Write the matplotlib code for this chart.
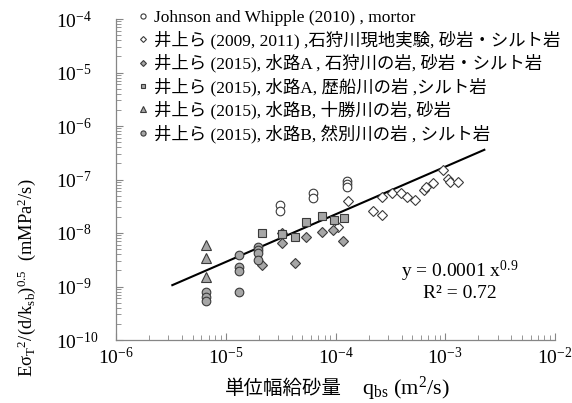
import numpy as np
import matplotlib
matplotlib.use('Agg')
import matplotlib.pyplot as plt
from matplotlib.ticker import FixedLocator, LogLocator, NullFormatter, LogFormatterMathtext

# フォント設定
plt.rcParams['font.family'] = ['Liberation Serif', 'Noto Sans CJK JP']
plt.rcParams['mathtext.fontset'] = 'custom'
plt.rcParams['mathtext.rm'] = 'Liberation Serif'
plt.rcParams['mathtext.it'] = 'Liberation Serif:italic'
plt.rcParams['mathtext.bf'] = 'Liberation Serif:bold'
plt.rcParams['axes.unicode_minus'] = False

# データ
jw_x = [3.12e-5, 3.12e-5, 6.24e-5, 6.24e-5, 1.26e-4, 1.26e-4, 1.26e-4]
jw_y = [3.27e-8, 2.58e-8, 5.6e-8, 4.57e-8, 9.38e-8, 8.24e-8, 7.33e-8]

field_x = [1.05e-4, 1.31e-4, 2.18e-4, 2.64e-4, 2.64e-4, 3.27e-4, 3.95e-4, 4.44e-4,
           5.30e-4, 6.47e-4, 6.68e-4, 7.78e-4, 9.59e-4, 1.07e-3, 1.10e-3, 1.32e-3]
field_y = [1.31e-8, 3.88e-8, 2.58e-8, 2.17e-8, 4.65e-8, 5.71e-8, 5.6e-8, 4.61e-8,
           4.14e-8, 6.5e-8, 7.24e-8, 8.49e-8, 1.51e-7, 1.01e-7, 8.97e-8, 9.1e-8]

chA_ishikari_x = [2.15e-5, 3.24e-5, 3.24e-5, 4.28e-5, 5.38e-5, 7.48e-5, 9.55e-5, 1.18e-4]
chA_ishikari_y = [2.52e-9, 1.02e-8, 6.6e-9, 2.72e-9, 8.3e-9, 1.06e-8, 1.14e-8, 7.1e-9]

chA_rekifune_x = [2.15e-5, 3.24e-5, 4.28e-5, 5.38e-5, 7.48e-5, 9.68e-5, 1.19e-4]
chA_rekifune_y = [9.9e-9, 9.4e-9, 8.4e-9, 1.63e-8, 2.12e-8, 1.73e-8, 1.88e-8]

chB_tokachi_x = [6.6e-6, 6.6e-6, 6.6e-6]
chB_tokachi_y = [6.0e-9, 3.37e-9, 1.52e-9]

chB_shikaribetsu_x = [6.56e-6, 6.56e-6, 6.56e-6, 1.32e-5, 1.32e-5, 1.32e-5, 1.32e-5,
                      1.98e-5, 1.98e-5, 1.98e-5, 1.98e-5]
chB_shikaribetsu_y = [7.9e-10, 6.5e-10, 5.4e-10, 3.9e-9, 2.3e-9, 1.95e-9, 7.8e-10,
                      5.4e-9, 4.8e-9, 4.3e-9, 3.1e-9]

labels = ['Johnson and Whipple (2010) , mortor',
          '井上ら (2009, 2011) ,石狩川現地実験, 砂岩・シルト岩',
          '井上ら (2015), 水路A , 石狩川の岩, 砂岩・シルト岩',
          '井上ら (2015), 水路A, 歴船川の岩 ,シルト岩',
          '井上ら (2015), 水路B, 十勝川の岩, 砂岩',
          '井上ら (2015), 水路B, 然別川の岩 , シルト岩']

# 軸の範囲（10のべき乗）
x_decades = np.arange(-6, -1)
y_decades = np.arange(-10, -3)

# 近似曲線 y = a x^b
fit_a = 8.1e-5
fit_b = 0.89
fit_xmin, fit_xmax = 3.26e-6, 2.27e-3

fig = plt.figure(figsize=(5.72, 4.03), dpi=100)
ax = fig.add_axes([116 / 572, 63 / 403, 439 / 572, 321 / 403])

gray = '#a6a6a6'
edge = '#3a3a3a'
ax.plot(jw_x, jw_y, ls='none', marker='o', ms=6.2, mfc='white', mec=edge, mew=0.8, label=labels[0])
ax.plot(field_x, field_y, ls='none', marker='D', ms=5, mfc='white', mec=edge, mew=0.8, label=labels[1])
ax.plot(chA_ishikari_x, chA_ishikari_y, ls='none', marker='D', ms=5, mfc=gray, mec=edge, mew=0.8, label=labels[2])
ax.plot(chA_rekifune_x, chA_rekifune_y, ls='none', marker='s', ms=6, mfc=gray, mec=edge, mew=0.8, label=labels[3])
ax.plot(chB_tokachi_x, chB_tokachi_y, ls='none', marker='^', ms=6.5, mfc=gray, mec=edge, mew=0.8, label=labels[4])
ax.plot(chB_shikaribetsu_x, chB_shikaribetsu_y, ls='none', marker='o', ms=6.2, mfc=gray, mec=edge, mew=0.8, label=labels[5])

fx = np.logspace(np.log10(fit_xmin), np.log10(fit_xmax), 50)
ax.plot(fx, fit_a * fx ** fit_b, color='black', lw=1.5, zorder=1)

# 軸
ax.set_xscale('log')
ax.set_yscale('log')
ax.set_xlim(10.0 ** x_decades[0], 10.0 ** x_decades[-1])
ax.set_ylim(10.0 ** y_decades[0], 10.0 ** y_decades[-1])
ax.xaxis.set_major_locator(FixedLocator(10.0 ** x_decades))
ax.yaxis.set_major_locator(FixedLocator(10.0 ** y_decades))
xminor = np.concatenate([np.arange(2, 10) * 10.0 ** d for d in x_decades[:-1]])
yminor = np.concatenate([np.arange(2, 10) * 10.0 ** d for d in y_decades[:-1]])
ax.xaxis.set_minor_locator(FixedLocator(xminor))
ax.yaxis.set_minor_locator(FixedLocator(yminor))
ax.xaxis.set_minor_formatter(NullFormatter())
ax.yaxis.set_minor_formatter(NullFormatter())
ax.xaxis.set_major_formatter(LogFormatterMathtext())
ax.yaxis.set_major_formatter(LogFormatterMathtext())

for s in ['top', 'right']:
    ax.spines[s].set_visible(False)
for s in ['left', 'bottom']:
    ax.spines[s].set_color('#868686')
    ax.spines[s].set_linewidth(0.9)

ax.tick_params(which='both', direction='in', color='#868686', labelsize=14)
ax.tick_params(which='major', length=5)
ax.tick_params(which='minor', length=3.5)
ax.tick_params(axis='x', pad=5)
ax.tick_params(axis='y', pad=43)
for t in ax.get_yticklabels():
    t.set_horizontalalignment('left')

# 凡例
ax.legend(loc='upper left', bbox_to_anchor=(138 / 572, 1 - 10 / 403), bbox_transform=fig.transFigure,
          frameon=False, fontsize=12.5, markerscale=0.6, handlelength=0.6, handletextpad=0.3,
          labelspacing=0.27, borderpad=0, borderaxespad=0)

# 軸ラベル
fig.text(27 / 572, 1 - 377 / 403, r'Eσ$_{\rm T}$$^{2}$/(d/k$_{\rm sb}$)$^{0.5}$  (mMPa$^{2}$/s)',
         rotation=90, rotation_mode='anchor', ha='left', va='center', fontsize=13.3)
fig.text(342 / 572, 1 - 389 / 403, '単位幅給砂量', ha='right', va='center', fontsize=14)
fig.text(362 / 572, 1 - 389 / 403, r'q$_{\rm bs}$ (m$^{2}$/s)', ha='left', va='center', fontsize=16)

# 近似式
ax.text(460, 403 - 271, 'y = 0.0001 x$^{0.9}$', transform=None, ha='center', va='center', fontsize=14)
ax.text(460, 403 - 293, 'R² = 0.72', transform=None, ha='center', va='center', fontsize=14)

fig.savefig('out.png', dpi=100)
